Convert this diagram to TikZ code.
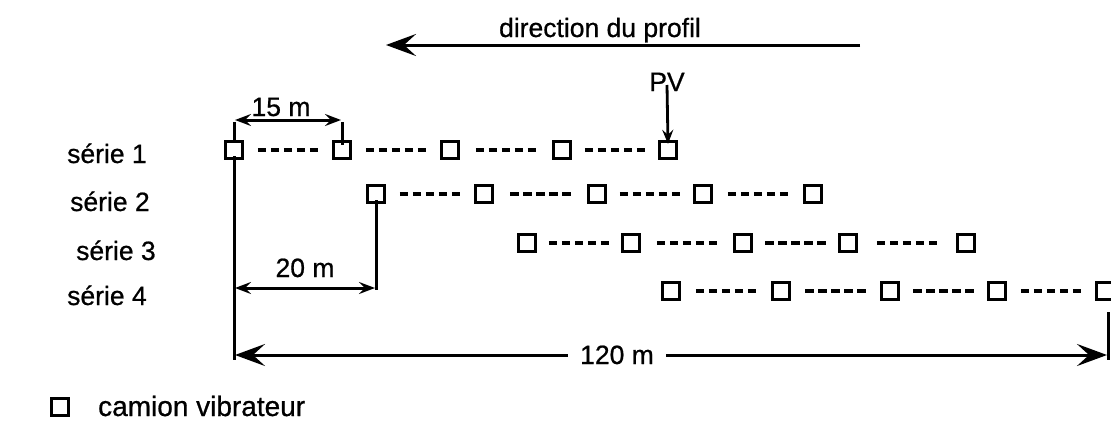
\documentclass[tikz,border=0pt]{standalone}
\usepackage{fontspec}
\setmainfont{Liberation Sans}
\newfontface\lblface{Liberation Sans}[FakeBold=0.7]
\usetikzlibrary{arrows.meta,calc}
\begin{document}
\begin{tikzpicture}[x=1pt,y=-1pt,
  vib/.style={draw, line width=3.4pt, minimum size=17pt, inner sep=0pt},
  lbl/.style={font=\lblface\fontsize{26.5}{30}\selectfont, inner sep=0pt},
  dsh/.style={line width=3.2pt, dash pattern=on 8.5pt off 4.5pt},
  bigarrow/.style={line width=3pt, -{Stealth[length=30pt,width=22pt,inset=12pt]}},
  dimsmall/.style={line width=3pt, {Stealth[length=16pt,width=12pt,inset=6pt]}-{Stealth[length=16pt,width=12pt,inset=6pt]}},
  dimbig/.style={line width=3pt, {Stealth[length=30pt,width=22pt,inset=12pt]}-{Stealth[length=30pt,width=22pt,inset=12pt]}},
  tick/.style={line width=3pt}]
\useasboundingbox (0,0) rectangle (1111,434);
% direction arrow
\coordinate (dirA) at (860,45);
\coordinate (dirB) at (386,45);
\draw[bigarrow] (dirA) -- (dirB);
\node[lbl, anchor=base] (dir) at (600,37) {direction du profil};
% series labels
\node[lbl, anchor=base west] (l1) at (67,163) {série 1};
\node[lbl, anchor=base west] (l2) at (70,211) {série 2};
\node[lbl, anchor=base west] (l3) at (76,260) {série 3};
\node[lbl, anchor=base west] (l4) at (67,305) {série 4};
% vibrator positions
\foreach \i/\x in {1/234,2/342,3/450,4/562,5/668} \node[vib] (a\i) at (\x,150) {};
\foreach \i/\x in {1/376,2/484,3/597,4/703,5/813} \node[vib] (b\i) at (\x,194) {};
\foreach \i/\x in {1/527,2/631,3/743,4/848,5/966} \node[vib] (c\i) at (\x,243) {};
\foreach \i/\x in {1/671,2/781,3/890,4/997,5/1105} \node[vib] (d\i) at (\x,291) {};
\foreach \r in {a,b,c,d}{
  \foreach \i/\j in {1/2,2/3,3/4,4/5}
    \draw[dsh] ($(\r\i.east)!0.5!(\r\j.west)+(-30.25,0)$) -- ($(\r\i.east)!0.5!(\r\j.west)+(30.25,0)$);
}
% PV
\node[lbl, anchor=base] (pv) at (667,91) {PV};
\draw[line width=2.8pt, -{Stealth[length=14pt,width=11pt,inset=5pt]}] ([yshift=6pt]pv.base) -- ([yshift=-4pt]a5.north);
% 15 m
\coordinate (t15a) at (a1.north |- 0,122);
\coordinate (t15b) at (a2.north |- 0,122);
\draw[tick] ([yshift=-3pt]a1.north) -- (t15a);
\draw[tick] ([yshift=-5pt]a2.north) -- (t15b);
\draw[dimsmall] ([xshift=1pt,yshift=2pt]t15a) -- ([xshift=-1pt,yshift=2pt]t15b);
\node[lbl, anchor=base] (m15) at (281,116) {15 m};
% 20 m
\coordinate (v20) at (b1.south |- 0,290);
\draw[tick] ([yshift=4pt]b1.south) -- (v20);
\coordinate (h20a) at (a1 |- 0,288);
\draw[dimsmall] ([xshift=1pt]h20a) -- ([xshift=-1pt]v20 |- h20a);
\node[lbl, anchor=base] (m20) at (305,277) {20 m};
% 120 m
\coordinate (vL) at (a1.south |- 0,360);
\draw[tick] ([yshift=4pt]a1.south) -- (vL);
\coordinate (vRt) at (1108,312);
\coordinate (vRb) at (1108,360);
\draw[tick] (vRt) -- (vRb);
\coordinate (h120a) at (a1 |- 0,355);
\coordinate (h120b) at (1108,355);
\draw[dimbig] ([xshift=1pt]h120a) -- ([xshift=-1pt]h120b);
\node[lbl, anchor=base, fill=white, inner xsep=12pt, inner ysep=3pt] (m120) at (617,364) {120 m};
% legend
\node[vib] (leg) at (60,407) {};
\node[lbl, anchor=base west, font=\lblface\fontsize{28}{32}\selectfont] (legt) at (98,416) {camion vibrateur};
\end{tikzpicture}
\end{document}
